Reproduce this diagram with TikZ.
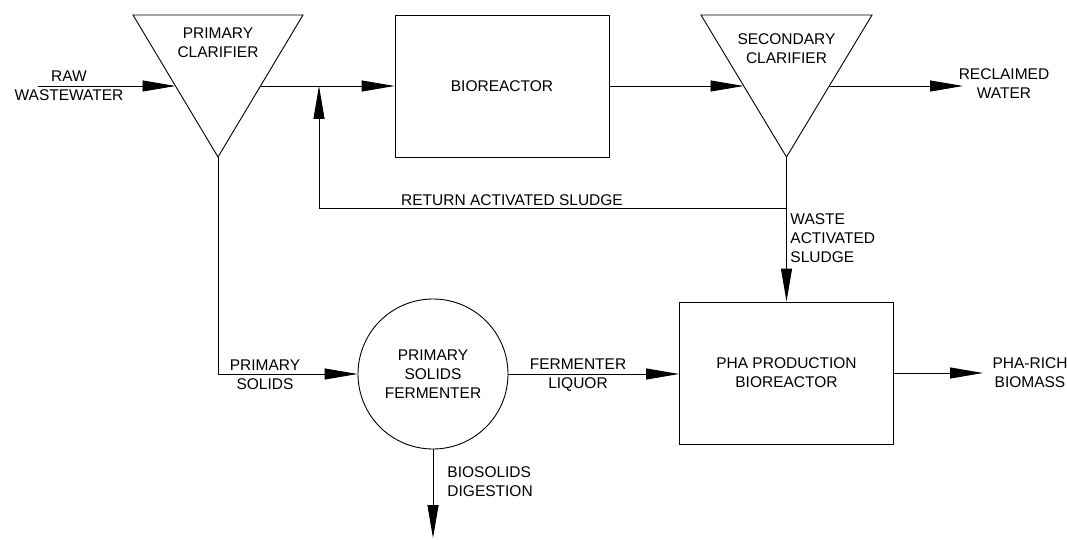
\documentclass[tikz,border=0pt]{standalone}
\usepackage{fontspec}
\setmainfont{Liberation Sans}
\usetikzlibrary{arrows.meta}
\begin{document}
\begin{tikzpicture}[x=1pt,y=-1pt,line width=0.9pt,
  lbl/.style={font=\fontsize{15.5}{19}\selectfont, align=center, inner sep=0pt},
  flow/.style={-{Triangle[length=33pt,width=11pt]}},
  unit/.style={draw, line width=0.9pt, lbl, minimum width=214pt, minimum height=142pt},
  tank/.style={draw, line width=0.9pt, circle, lbl, minimum size=150pt}]
\useasboundingbox (0,0) rectangle (1067,540);
% clarifiers
\draw (133,15) -- (303,15) -- (218,157) -- cycle;
\node[lbl] (pc) at (218,43) {PRIMARY\\CLARIFIER};
\coordinate (pcin) at (175.5,86);
\coordinate (pcout) at (260.5,86);
\coordinate (pcapex) at (218,157);
\draw (701,15) -- (872,15) -- (786.5,157) -- cycle;
\node[lbl] (sc) at (786.5,49) {SECONDARY\\CLARIFIER};
\coordinate (scin) at (743.5,86);
\coordinate (scout) at (829.5,86);
\coordinate (scapex) at (786.5,157);
% units
\node[unit] (bio) at (502,86) {BIOREACTOR};
\node[unit] (pha) at (786.5,373) {PHA PRODUCTION\\BIOREACTOR};
\node[tank] (ferm) at (433,374) {PRIMARY\\SOLIDS\\FERMENTER};
% free ends and corners
\coordinate (rawstart) at (38,86);
\coordinate (reclaimed) at (963,86);
\coordinate (retjoin) at (319,86);
\coordinate (retcorner) at (319,208);
\coordinate (retstart) at (786.5,208);
\coordinate (pscorner) at (218,374);
\coordinate (biosolids) at (433,538);
\coordinate (pharich) at (983,373);
% flows
\draw[flow] (rawstart) -- (pcin);
\draw[flow] (pcout) -- (bio.west);
\draw[flow] (bio.east) -- (scin);
\draw[flow] (scout) -- (reclaimed);
\draw[flow] (retstart) -- (retcorner) -- (retjoin);
\draw[flow] (scapex) -- (pha.north);
\draw[flow] (pcapex) -- (pscorner) -- (ferm.west);
\draw[flow] (ferm.east) -- (ferm.east -| pha.west);
\draw[flow] (ferm.south) -- (biosolids);
\draw[flow] (pha.east) -- (pharich);
% labels
\node[lbl] (lraw) at (69,86) {RAW\\WASTEWATER};
\node[lbl] (lrec) at (1004,84) {RECLAIMED\\WATER};
\node[lbl] (lret) at (512,200) {RETURN ACTIVATED SLUDGE};
\node[lbl, anchor=west, align=left] (lwas) at (790,238) {WASTE\\ACTIVATED\\SLUDGE};
\node[lbl] (lps) at (265,375) {PRIMARY\\SOLIDS};
\node[lbl] (lfl) at (578,375) {FERMENTER\\LIQUOR};
\node[lbl, anchor=west, align=left] (lbs) at (447,482) {BIOSOLIDS\\DIGESTION};
\node[lbl] (lpr) at (1030,373) {PHA-RICH\\BIOMASS};
\end{tikzpicture}
\end{document}
